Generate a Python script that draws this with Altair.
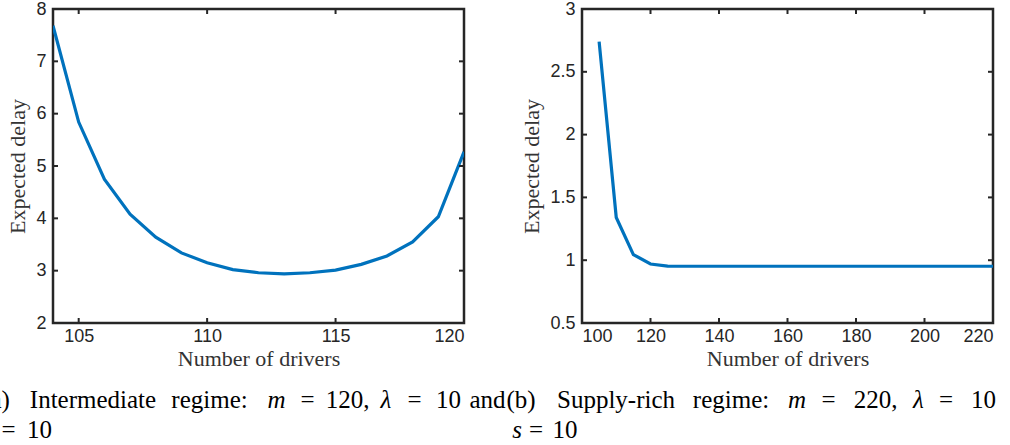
import altair as alt
import pandas as pd

# ---------------- data ----------------
a_drivers = [104, 105, 106, 107, 108, 109, 110, 111, 112, 113, 114, 115, 116, 117, 118, 119, 120]
a_delay = [7.68, 5.84, 4.75, 4.08, 3.64, 3.34, 3.15, 3.02, 2.96, 2.94, 2.96, 3.01, 3.12, 3.28, 3.55, 4.03, 5.27]

b_drivers = [105, 110, 115, 120, 125, 130, 135, 140, 145, 150, 155, 160, 165, 170,
             175, 180, 185, 190, 195, 200, 205, 210, 215, 220]
b_delay = [2.74, 1.34, 1.045, 0.97, 0.953, 0.952, 0.952, 0.952, 0.952, 0.952, 0.952, 0.952,
           0.952, 0.952, 0.952, 0.952, 0.952, 0.952, 0.952, 0.952, 0.952, 0.952, 0.952, 0.952]

a_xticks = [105, 110, 115, 120]
a_yticks = [2, 3, 4, 5, 6, 7, 8]
b_xticks = [100, 120, 140, 160, 180, 200, 220]
b_yticks = [0.5, 1, 1.5, 2, 2.5, 3]

x_title = "Number of drivers"
y_title = "Expected delay"

# caption words
cap_a_line1 = ["(a)", "Intermediate", "regime:", "m", "=", "120,", "λ", "=", "10", "and"]
cap_a_line2 = ["s", "=", "10"]
cap_b_line1 = ["(b)", "Supply-rich", "regime:", "m", "=", "220,", "λ", "=", "10"]
cap_b_line2 = ["s", "=", "10"]
italic_words = {"m", "λ", "s"}

# ---------------- layout ----------------
W, H = 411, 314
LEFT_A, LEFT_B = 52, 581
AXIS_COLOR = "#262626"
LINE_COLOR = "#0072BD"
TICK = 5
LINE1_Y, LINE2_Y = 399, 429   # caption baselines, relative to plot top

# word centres in page pixels
cap_a_line1_x = [-5, 92, 208.5, 275.5, 306.5, 346.5, 385, 413.5, 447.5, 486.5]
cap_a_line2_x = [-9.5, 7.5, 38.5]
cap_b_line1_x = [520, 615, 730, 796, 827.5, 874.5, 917.5, 945, 982.5]
cap_b_line2_x = [516, 535, 564]


def caption_frame(l1, l1x, l2, l2x, left):
    rows = []
    for w, x in zip(l1, l1x):
        rows.append({"word": w, "px": x - left, "py": LINE1_Y, "it": w in italic_words})
    for w, x in zip(l2, l2x):
        rows.append({"word": w, "px": x - left, "py": LINE2_Y, "it": w in italic_words})
    return pd.DataFrame(rows)


def panel(xs, ys, xdom, ydom, xticks, yticks, ytitle_x, cap_df):
    df = pd.DataFrame({"v": xs, "w": ys})
    xs_ = alt.Scale(domain=xdom, nice=False, zero=False)
    ys_ = alt.Scale(domain=ydom, nice=False, zero=False)
    x_axis = alt.Axis(values=xticks, format="d", title=x_title,
                      titleX=W / 2, titleY=42, titleBaseline="alphabetic",
                      labelBaseline="alphabetic", labelPadding=18)
    y_axis = alt.Axis(values=yticks, format="~g", title=y_title,
                      titleX=ytitle_x, titleY=H / 2, titleBaseline="alphabetic",
                      titleAngle=270, labelPadding=7)

    line = alt.Chart(df).mark_line(color=LINE_COLOR, strokeWidth=3.2, clip=True).encode(
        x=alt.X("v:Q", scale=xs_, axis=x_axis),
        y=alt.Y("w:Q", scale=ys_, axis=y_axis),
    )

    xt = pd.DataFrame({"v": xticks})
    yt = pd.DataFrame({"w": yticks})
    rule = dict(color=AXIS_COLOR, strokeWidth=2)
    bottom = alt.Chart(xt).mark_rule(**rule).encode(
        x=alt.X("v:Q", scale=xs_, axis=x_axis), y=alt.value(H), y2=alt.value(H - TICK))
    top = alt.Chart(xt).mark_rule(**rule).encode(
        x=alt.X("v:Q", scale=xs_, axis=x_axis), y=alt.value(0), y2=alt.value(TICK))
    leftt = alt.Chart(yt).mark_rule(**rule).encode(
        y=alt.Y("w:Q", scale=ys_, axis=y_axis), x=alt.value(0), x2=alt.value(TICK))
    rightt = alt.Chart(yt).mark_rule(**rule).encode(
        y=alt.Y("w:Q", scale=ys_, axis=y_axis), x=alt.value(W - TICK), x2=alt.value(W))

    px_scale = alt.Scale(domain=[0, W], range=[0, W], nice=False, zero=False)
    py_scale = alt.Scale(domain=[0, H], range=[0, H], nice=False, zero=False)
    txt = dict(align="center", baseline="alphabetic", font="Liberation Serif",
               fontSize=25, color="black")
    cap_n = alt.Chart(cap_df).transform_filter("!datum.it").mark_text(**txt).encode(
        x=alt.X("px:Q", scale=px_scale, axis=None),
        y=alt.Y("py:Q", scale=py_scale, axis=None), text="word:N")
    cap_i = alt.Chart(cap_df).transform_filter("datum.it").mark_text(fontStyle="italic", **txt).encode(
        x=alt.X("px:Q", scale=px_scale, axis=None),
        y=alt.Y("py:Q", scale=py_scale, axis=None), text="word:N")

    plot = alt.layer(line, bottom, top, leftt, rightt)
    caps = alt.layer(cap_n, cap_i)
    return alt.layer(plot, caps).resolve_scale(x="independent", y="independent").properties(
        width=W, height=H)


left = panel(a_drivers, a_delay, [104, 120], [2, 8], a_xticks, a_yticks, -29,
             caption_frame(cap_a_line1, cap_a_line1_x, cap_a_line2, cap_a_line2_x, LEFT_A))
right = panel(b_drivers, b_delay, [100, 220], [0.5, 3], b_xticks, b_yticks, -44,
              caption_frame(cap_b_line1, cap_b_line1_x, cap_b_line2, cap_b_line2_x, LEFT_B))

chart = alt.hconcat(left, right, spacing=LEFT_B - LEFT_A - W, bounds="flush").properties(
    padding={"left": -20, "top": -2, "right": 0, "bottom": 0}
).configure_view(
    stroke=AXIS_COLOR, strokeWidth=2.5
).configure_axis(
    domain=False, ticks=False, tickSize=0, grid=False,
    labelFont="Liberation Sans", labelFontSize=18, labelColor=AXIS_COLOR,
    titleFont="Liberation Serif", titleFontSize=22, titleFontWeight="normal",
    titleColor="#333333",
)

chart.save("out.html", embed_options={"renderer": "svg", "actions": False})
